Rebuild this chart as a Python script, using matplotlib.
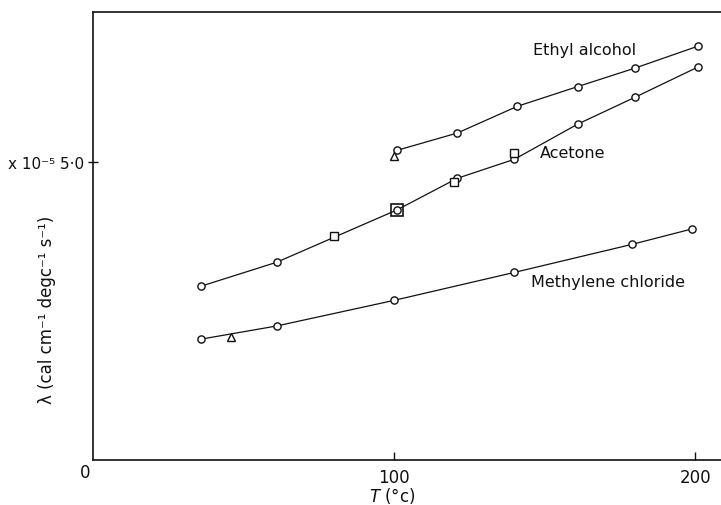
import matplotlib
matplotlib.use("Agg")
import matplotlib.pyplot as plt

# Ethyl alcohol (circles) + one triangle
eth_T = [101, 121, 141, 161, 180, 201]
eth_k = [5.20, 5.49, 5.94, 6.27, 6.58, 6.95]
eth_tri_T = [100]
eth_tri_k = [5.10]

# Acetone (circles), squares and the boxed point
ace_T = [36, 61, 101, 121, 140, 161, 180, 201]
ace_k = [2.92, 3.32, 4.20, 4.73, 5.05, 5.64, 6.09, 6.60]
ace_sq_T = [80, 120, 140]
ace_sq_k = [3.76, 4.66, 5.15]
ace_box_T = [101]
ace_box_k = [4.20]

# Methylene chloride (circles) + one triangle
mc_T = [36, 61, 100, 140, 179, 199]
mc_k = [2.03, 2.25, 2.68, 3.15, 3.62, 3.88]
mc_tri_T = [46]
mc_tri_k = [2.06]

plt.rcParams['font.family'] = ['DejaVu Sans']
fig = plt.figure(figsize=(7.21, 5.06), dpi=100)
ax = fig.add_axes([0.129, 0.089, 0.871, 0.885])

lc = '#111111'
mk = dict(marker='o', ms=5.2, mfc='white', mec=lc, mew=1.0)

ax.plot(eth_T, eth_k, '-', color=lc, lw=0.9, **mk)
ax.plot(ace_T, ace_k, '-', color=lc, lw=0.9, **mk)
ax.plot(mc_T, mc_k, '-', color=lc, lw=0.9, **mk)

ax.plot(ace_sq_T, ace_sq_k, 's', ms=5.5, mfc='white', mec=lc, mew=1.0)
ax.plot(ace_box_T, ace_box_k, 's', ms=8, mfc='none', mec=lc, mew=1.2)
ax.plot(eth_tri_T, eth_tri_k, '^', ms=6, mfc='white', mec=lc, mew=1.0)
ax.plot(mc_tri_T, mc_tri_k, '^', ms=6, mfc='white', mec=lc, mew=1.0)

# curve labels
ax.text(146, 6.9, 'Ethyl alcohol', fontsize=11.5, va='center', color=lc)
ax.text(148.5, 5.17, 'Acetone', fontsize=11.5, va='center', color=lc)
ax.text(145.5, 3.0, 'Methylene chloride', fontsize=11.5, va='center', color=lc)

ax.set_xlim(0, 208.6)
ax.set_ylim(0, 7.52)
ax.spines['right'].set_visible(False)
for s in ['left', 'top', 'bottom']:
    ax.spines[s].set_linewidth(1.2)
    ax.spines[s].set_color(lc)

ax.set_xticks([100, 200])
ax.set_xticklabels(['100', '200'])
ax.tick_params(axis='x', direction='in', length=6, width=1, labelsize=12, pad=6, colors=lc)
ax.set_yticks([5.0])
ax.set_yticklabels(['x 10⁻⁵ 5·0'])
ax.tick_params(axis='y', direction='inout', length=7, width=1, labelsize=11, pad=3, colors=lc)

fig.text(85 / 721, 1 - 473 / 506, '0', fontsize=12, ha='center', va='center', color=lc)
fig.text(392 / 721, 1 - 496 / 506, '$T$ (°c)', fontsize=12, ha='center', va='center', color=lc)
fig.text(47 / 721, 1 - 310 / 506, 'λ (cal cm⁻¹ degc⁻¹ s⁻¹)', fontsize=12, rotation=90,
         ha='center', va='center', color=lc)

fig.savefig('out.png', dpi=100)
